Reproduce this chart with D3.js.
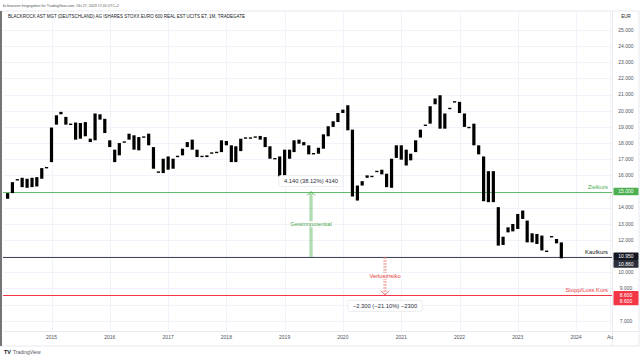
<!DOCTYPE html>
<html><head><meta charset="utf-8">
<script src="https://cdn.jsdelivr.net/npm/d3@7"></script>
<style>
body{margin:0;background:#fff}
svg{display:block}
text{font-family:"Liberation Sans",Arial,sans-serif}
</style>
</head><body>
<svg id="c" width="640" height="360"></svg>
<script>
// ---- data ----
const firstMonth = "2014-04";
const open = [14.55,14.9,15.7,15.85,15.23,15.27,15.31,15.79,16.45,16.82,
19.14,19.78,19.62,19.18,19.27,18.27,19.3,18.27,18.17,19.78,
19.5,18.17,17.59,17.24,18.04,18.21,18.48,17.55,18.35,18.58,
17.75,16.18,16.14,17.17,16.41,17.15,17.24,17.75,18.21,17.59,
17.15,17.13,17.36,17.4,17.44,18.13,17.86,16.82,17.5,18.29,
18.33,18.35,18.21,18.37,17.8,17.05,17.17,15.93,17.59,17.44,
18.21,17.86,17.86,17.32,17.34,17.65,18.42,19.0,19.3,19.86,
20.34,18.83,14.44,15.37,15.85,15.95,16.22,16.06,16.1,15.23,
17.08,17.86,16.61,17.34,17.44,18.34,19.08,19.2,20.4,20.96,
18.89,20.12,20.53,20.55,19.83,18.98,19.2,17.86,17.17,14.34,
16.26,14.03,11.69,12.47,12.53,12.68,13.82,13.2,11.85,12.37,
12.27,11.32,12.22,12.06,11.85];
const close = [14.9,15.58,15.75,15.27,15.79,15.85,15.89,16.45,16.5,18.96,
19.72,19.93,19.14,19.14,18.21,19.24,18.42,18.06,19.83,19.45,
18.62,17.75,16.82,18.0,18.08,18.58,17.59,18.37,18.39,17.86,
16.41,16.22,17.03,16.35,17.03,17.19,17.65,18.06,17.59,17.13,
17.19,17.24,17.4,17.44,18.17,17.86,16.82,17.8,18.27,18.33,
18.29,18.39,18.44,17.75,17.03,17.01,15.93,17.59,17.03,18.17,
17.96,18.06,17.3,17.36,17.71,18.54,19.04,19.35,19.86,20.07,
18.79,14.69,15.37,15.64,16.0,15.91,16.26,16.35,15.27,17.03,
17.86,16.97,17.59,16.93,18.17,18.83,19.12,20.28,20.76,18.89,
19.83,20.16,20.57,19.86,19.0,18.94,17.86,17.3,14.4,16.26,
14.34,11.65,12.2,12.78,12.99,13.61,13.3,11.85,12.41,11.75,
11.35,11.28,12.18,11.79,10.86];
const priceTicks = [25,24,23,22,21,20,19,18,17,16,14,13,12,10,9,7];
const gridValues = [25,24,23,22,21,20,19,18,17,16,15,14,13,12,11,10,9,8,7];
const yearTicks = ["2015","2016","2017","2018","2019","2020","2021","2022","2023","2024"];
const extraTick = {date:"2024-08", label:"Au"};
const zielkurs = 15.0, kaufkurs = 10.95, stopKurs = 8.6, lastPrice = 10.86;
const gainDate = "2019-06-15", lossDate = "2020-09-20";
const gainLabel = "4.140 (38.12%) 4140", lossLabel = "\u22122.300 (\u221221.10%) \u22122300";
const headerText = "bi-finanzen freigegeben für TradingView.com, Okt 27, 2023 17:20 UTC+2";
const titleText = "BLACKROCK AST MGT (DEUTSCHLAND) AG ISHARES STOXX EURO 600 REAL EST UCITS ET, 1M, TRADEGATE";

// ---- layout ----
const svg = d3.select("#c");
const plotL = 3, plotR = 612, plotT = 11, plotB = 331;
const parseM = d3.utcParse("%Y-%m"), parseD = d3.utcParse("%Y-%m-%d");
const x = d3.scaleUtc().domain([parseM("2015-01"), parseM("2024-01")]).range([51.5, 576]);
const y = d3.scaleLinear().domain([7, 25]).range([320.7, 30]);
const crisp = v => Math.round(y(v)) + 0.5;
const m0 = parseM(firstMonth);
const candles = open.map((o,i)=>({date:d3.utcMonth.offset(m0,i), o, c:close[i]}));

const green = "#4caf50", red = "#f23645", dark = "#131722";

// header
svg.append("text").attr("x",3).attr("y",6.5).attr("font-size",3.6).attr("fill","#555").text(headerText);
// frame
svg.append("rect").attr("x",1).attr("y",11).attr("width",638).attr("height",335)
  .attr("fill","none").attr("stroke","#e0e3eb").attr("stroke-width",0.8);
svg.append("line").attr("x1",1).attr("x2",1).attr("y1",11).attr("y2",346).attr("stroke","#555").attr("stroke-width",1.6);

svg.append("defs").append("clipPath").attr("id","pc").append("rect")
  .attr("x",plotL).attr("y",plotT).attr("width",plotR-plotL).attr("height",plotB-plotT);

// grid
const grid = svg.append("g").attr("clip-path","url(#pc)");
grid.selectAll("line.h").data(gridValues).join("line").attr("class","h")
  .attr("x1",plotL).attr("x2",plotR).attr("y1",d=>crisp(d)).attr("y2",d=>crisp(d))
  .attr("stroke","#f0f3fa").attr("stroke-width",1);
grid.selectAll("line.v").data(yearTicks.concat([extraTick.date])).join("line").attr("class","v")
  .attr("x1",d=>Math.round(x(parseM(d.length===4?d+"-01":d)))+0.5)
  .attr("x2",d=>Math.round(x(parseM(d.length===4?d+"-01":d)))+0.5)
  .attr("y1",plotT).attr("y2",plotB).attr("stroke","#f0f3fa").attr("stroke-width",1);

// axis separators
svg.append("line").attr("x1",plotR+0.5).attr("x2",plotR+0.5).attr("y1",plotT).attr("y2",346).attr("stroke","#e8eaef");
svg.append("line").attr("x1",plotL).attr("x2",639).attr("y1",plotB+0.5).attr("y2",plotB+0.5).attr("stroke","#e8eaef");

// title
svg.append("text").attr("x",8).attr("y",18.3).attr("font-size",4.5).attr("fill",dark).text(titleText);
svg.append("text").attr("x",626).attr("y",18.3).attr("font-size",4.5).attr("fill",dark).attr("text-anchor","middle").text("EUR");

// horizontal level lines
const lines = svg.append("g").attr("clip-path","url(#pc)");
[[zielkurs,"#66bb6a"],[kaufkurs,"#434651"],[stopKurs,red]].forEach(([v,c])=>{
  lines.append("line").attr("x1",plotL).attr("x2",plotR).attr("y1",crisp(v)).attr("y2",crisp(v)).attr("stroke",c).attr("stroke-width",1);
});

// candles
const bw = 3.2;
svg.append("g").attr("clip-path","url(#pc)").selectAll("rect").data(candles).join("rect")
  .attr("x",d=>x(d.date)-bw/2).attr("width",bw)
  .attr("y",d=>{const t=y(Math.max(d.o,d.c)), b=y(Math.min(d.o,d.c)); return (b-t<1.4)?(t+b)/2-0.7:t;})
  .attr("height",d=>Math.max(1.4, y(Math.min(d.o,d.c))-y(Math.max(d.o,d.c))))
  .attr("fill","#000");

// price axis labels
const pa = svg.append("g");
pa.selectAll("text").data(priceTicks).join("text")
  .attr("x",626).attr("y",d=>y(d)+1.8).attr("text-anchor","middle").attr("font-size",5).attr("fill","#50535e")
  .text(d=>d3.format(".3f")(d));

function priceBox(yy, fill, label){
  pa.append("rect").attr("x",613.5).attr("y",yy-3.8).attr("width",25).attr("height",7.6).attr("fill",fill).attr("rx",0.8);
  pa.append("text").attr("x",626).attr("y",yy+1.8).attr("text-anchor","middle").attr("font-size",5).attr("fill","#fff").text(label);
}
priceBox(y(zielkurs), green, d3.format(".3f")(zielkurs));
priceBox(y(kaufkurs)-0.5, dark, d3.format(".3f")(kaufkurs));
priceBox(y(kaufkurs)+7, "#2a2e39", d3.format(".3f")(lastPrice));
priceBox(y(stopKurs), red, d3.format(".3f")(stopKurs));
priceBox(y(stopKurs)+6.6, red, d3.format(".3f")(stopKurs));

// level labels
svg.append("text").attr("x",608).attr("y",y(zielkurs)-3).attr("text-anchor","end").attr("font-size",5.8).attr("fill",green).text("Zielkurs");
svg.append("text").attr("x",608).attr("y",y(kaufkurs)-2.5).attr("text-anchor","end").attr("font-size",5.8).attr("fill",dark).text("Kaufkurs");
svg.append("text").attr("x",608).attr("y",y(stopKurs)-2.5).attr("text-anchor","end").attr("font-size",5.8).attr("fill",red).text("Stopp/Loss Kurs");

// time axis
const ta = svg.append("g");
ta.selectAll("text").data(yearTicks).join("text")
  .attr("x",d=>x(parseM(d+"-01"))).attr("y",339).attr("text-anchor","middle").attr("font-size",5).attr("fill","#50535e").text(d=>d);
ta.append("text").attr("x",x(parseM(extraTick.date))).attr("y",339).attr("text-anchor","middle").attr("font-size",5).attr("fill","#50535e").text(extraTick.label);

// arrows
function arrow(xd, v1, v2, col, dashed){
  const g = svg.append("g");
  const xx = Math.round(x(parseD(xd))), y1 = y(v1), y2 = y(v2);
  const dir = y2<y1?1:-1;
  [-0.9,0.9].forEach(o=>{
    g.append("line").attr("x1",xx+o).attr("x2",xx+o).attr("y1",y1).attr("y2",y2+dir)
     .attr("stroke",col).attr("stroke-width",0.8).attr("stroke-dasharray",dashed?"2,1":null);
  });
  g.append("path").attr("d",`M${xx-4},${y2+dir*4}L${xx},${y2}L${xx+4},${y2+dir*4}`)
   .attr("fill","none").attr("stroke",col).attr("stroke-width",1);
  return xx;
}
const gx = arrow(gainDate, kaufkurs, zielkurs, "#5cb85f", false);
const lx = arrow(lossDate, kaufkurs, stopKurs, "#e57373", true);

function midLabel(xx, yy, txt, col){
  const t = svg.append("text").attr("x",xx).attr("y",yy+2).attr("text-anchor","middle").attr("font-size",5.8).attr("fill",col).text(txt);
  const bb = t.node().getBBox();
  svg.insert("rect", ()=>t.node()).attr("x",bb.x-1).attr("y",bb.y).attr("width",bb.width+2).attr("height",bb.height).attr("fill","#fff");
}
midLabel(gx, (y(kaufkurs)+y(zielkurs))/2, "Gewinnpotential", "#43a047");
midLabel(lx, (y(kaufkurs)+y(stopKurs))/2, "Verlustrisiko", "#e53935");

function boxLabel(xx, yy, txt){
  const t = svg.append("text").attr("x",xx).attr("y",yy+2).attr("text-anchor","middle").attr("font-size",5.8).attr("fill","#2a2e39").text(txt);
  const bb = t.node().getBBox();
  svg.insert("rect", ()=>t.node()).attr("x",bb.x-5).attr("y",bb.y-2.5).attr("width",bb.width+10).attr("height",bb.height+5)
    .attr("fill","#fff").attr("stroke","#e6e8ee").attr("stroke-width",0.8).attr("rx",1.5);
}
boxLabel(gx, y(zielkurs)-10.5, gainLabel);
boxLabel(lx, y(stopKurs)+11, lossLabel);

// TradingView logo
const logo = svg.append("g");
logo.append("text").attr("x",4).attr("y",353.5).attr("font-size",5.5).attr("font-weight","bold").attr("fill",dark).text("TV");
logo.append("text").attr("x",13).attr("y",353.5).attr("font-size",5).attr("fill","#50535e").text("TradingView");
</script>
</body></html>
